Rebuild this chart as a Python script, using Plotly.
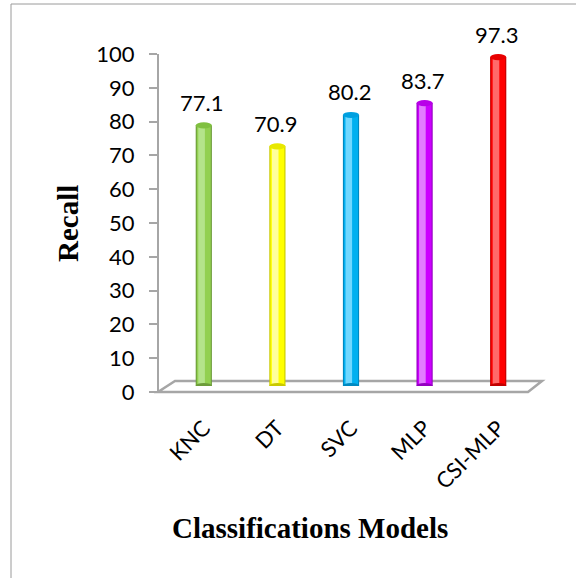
import plotly.graph_objects as go

# ---- data ----
categories = ["KNC", "DT", "SVC", "MLP", "CSI-MLP"]
recall = [77.1, 70.9, 80.2, 83.7, 97.3]
y_ticks = [0, 10, 20, 30, 40, 50, 60, 70, 80, 90, 100]
y_tick_labels = [str(v) for v in y_ticks]

# ---- styles ----
main_colors = ["#92d050", "#ffff00", "#00b0f0", "#cc00ff", "#ff0000"]
edge_colors = ["#6c9c3a", "#c9c900", "#0089c0", "#9400c0", "#c20000"]
light_colors = ["#b4e48a", "#ffff9a", "#70d8ff", "#e27cff", "#ff6a6a"]
cap_colors = ["#80c040", "#e8e800", "#00a0e0", "#b800e8", "#e80000"]

W, H = 576, 578


def px(x):
    return x / W


def py(y):
    return 1 - y / H


xs = list(range(len(categories)))
fig = go.Figure()

# cylinder-like bars built from layered bars
layers = [
    (edge_colors, 0.22, -0.11),
    (main_colors, 0.19, -0.095),
    (light_colors, 0.09, -0.075),
]
for cols, w, off in layers:
    fig.add_trace(go.Bar(
        x=xs, y=recall, width=w, offset=off,
        marker=dict(color=cols, line=dict(width=0)),
        hoverinfo="skip", showlegend=False,
    ))

# dummy trace for the tick axis
fig.add_trace(go.Scatter(x=[0], y=[0], xaxis="x", yaxis="y2", mode="markers",
                         marker=dict(opacity=0), hoverinfo="skip", showlegend=False))

shapes = []
# border lines
shapes.append(dict(type="line", xref="paper", yref="paper", x0=px(11), y0=py(4), x1=1.0, y1=py(4),
                   line=dict(color="#9a9a9a", width=1)))
shapes.append(dict(type="line", xref="paper", yref="paper", x0=px(11), y0=py(4), x1=px(11), y1=0,
                   line=dict(color="#9a9a9a", width=1)))
# floor
path = "M {},{} L {},{} L {},{} L {},{} Z".format(
    px(158), py(392), px(528), py(392), px(542), py(381), px(175), py(381))
shapes.append(dict(type="path", xref="paper", yref="paper", path=path, layer="below",
                   line=dict(color="#a6a6a6", width=2.5)))
# caps of cylinders
for i, v in enumerate(recall):
    shapes.append(dict(type="circle", xref="x", yref="y", x0=i - 0.11, x1=i + 0.11,
                       y0=-0.9, y1=0.9, fillcolor=edge_colors[i], line=dict(width=0), layer="above"))
    shapes.append(dict(type="circle", xref="x", yref="y", x0=i - 0.11, x1=i + 0.11,
                       y0=v - 0.9, y1=v + 0.9, fillcolor=cap_colors[i], line=dict(width=0), layer="above"))

annotations = []
for i, v in enumerate(recall):
    annotations.append(dict(x=i, y=v, xref="x", yref="y", text=f"{v}", showarrow=False,
                            xanchor="center", yanchor="middle", yshift=23, xshift=-2,
                            font=dict(family="Lato", size=22, color="black")))
annotations.append(dict(x=px(68), y=py(224), xref="paper", yref="paper", text="<b>Recall</b>",
                        textangle=-90, showarrow=False, xanchor="center", yanchor="middle",
                        font=dict(family="Liberation Serif", size=29, color="black")))
annotations.append(dict(x=px(310), y=py(528), xref="paper", yref="paper",
                        text="<b>Classifications Models</b>", showarrow=False,
                        xanchor="center", yanchor="middle",
                        font=dict(family="Liberation Serif", size=29, color="black")))

fig.update_layout(
    template="none",
    width=W, height=H,
    margin=dict(l=0, r=0, t=0, b=0, pad=0),
    paper_bgcolor="white", plot_bgcolor="rgba(0,0,0,0)",
    barmode="overlay",
    shapes=shapes, annotations=annotations,
    xaxis=dict(domain=[px(167), px(535)], range=[-0.5, 4.5], tickvals=xs, ticktext=categories,
               tickangle=-45, tickfont=dict(family="Lato", size=22, color="black"),
               showline=False, showgrid=False, zeroline=False, ticks="",
               ticklabelstandoff=24, anchor="y", automargin=False),
    yaxis=dict(domain=[py(386), py(48)], range=[0, 100], visible=False, fixedrange=True,
               automargin=False),
    yaxis2=dict(domain=[py(392), py(54)], range=[0, 100], anchor="free", position=px(158),
                tickvals=y_ticks, ticktext=y_tick_labels, showline=True, linecolor="#a6a6a6",
                linewidth=2, ticks="outside", ticklen=8, tickwidth=2, tickcolor="#a6a6a6",
                showgrid=False, zeroline=False, ticklabelstandoff=10, automargin=False,
                tickfont=dict(family="Lato", size=22, color="black")),
    showlegend=False,
)

fig.write_html("out.html",
               config={"displayModeBar": False},
               post_script="document.body.style.margin='0px';document.body.style.overflow='hidden';")
